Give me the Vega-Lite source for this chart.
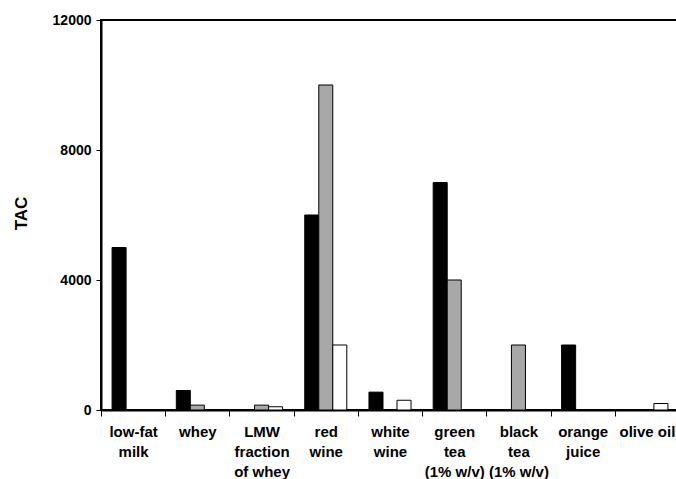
{
  "$schema": "https://vega.github.io/schema/vega-lite/v6.json",
  "autosize": "none",
  "width": 578,
  "height": 390,
  "padding": {"left": 101, "top": 20, "right": 0, "bottom": 69},
  "background": "white",
  "config": {
    "view": {"stroke": "black", "strokeWidth": 2},
    "font": "Liberation Sans"
  },
  "data": {
    "values": [
      {"food": "low-fat milk", "series": "A", "TAC": 5000},
      {"food": "low-fat milk", "series": "B", "TAC": 0},
      {"food": "low-fat milk", "series": "C", "TAC": 0},
      {"food": "whey", "series": "A", "TAC": 600},
      {"food": "whey", "series": "B", "TAC": 150},
      {"food": "whey", "series": "C", "TAC": 0},
      {"food": "LMW fraction of whey", "series": "A", "TAC": 0},
      {"food": "LMW fraction of whey", "series": "B", "TAC": 150},
      {"food": "LMW fraction of whey", "series": "C", "TAC": 100},
      {"food": "red wine", "series": "A", "TAC": 6000},
      {"food": "red wine", "series": "B", "TAC": 10000},
      {"food": "red wine", "series": "C", "TAC": 2000},
      {"food": "white wine", "series": "A", "TAC": 550},
      {"food": "white wine", "series": "B", "TAC": 0},
      {"food": "white wine", "series": "C", "TAC": 300},
      {"food": "green tea (1% w/v)", "series": "A", "TAC": 7000},
      {"food": "green tea (1% w/v)", "series": "B", "TAC": 4000},
      {"food": "green tea (1% w/v)", "series": "C", "TAC": 0},
      {"food": "black tea (1% w/v)", "series": "A", "TAC": 0},
      {"food": "black tea (1% w/v)", "series": "B", "TAC": 2000},
      {"food": "black tea (1% w/v)", "series": "C", "TAC": 0},
      {"food": "orange juice", "series": "A", "TAC": 2000},
      {"food": "orange juice", "series": "B", "TAC": 0},
      {"food": "orange juice", "series": "C", "TAC": 0},
      {"food": "olive oil", "series": "A", "TAC": 0},
      {"food": "olive oil", "series": "B", "TAC": 0},
      {"food": "olive oil", "series": "C", "TAC": 200}
    ]
  },
  "mark": {"type": "bar", "stroke": "black", "strokeWidth": 1},
  "encoding": {
    "x": {
      "field": "food",
      "type": "nominal",
      "sort": null,
      "scale": {"paddingInner": 0, "paddingOuter": 0},
      "axis": {
        "title": null,
        "labelAngle": 0,
        "domainColor": "black",
        "domainWidth": 2,
        "tickColor": "black",
        "tickBand": "extent",
        "tickSize": 6,
        "tickWidth": 1,
        "labelPadding": 8,
        "labelFont": "Liberation Sans",
        "labelFontWeight": "bold",
        "labelFontSize": 15,
        "labelColor": "black",
        "labelLineHeight": 20,
        "labelBaseline": "top",
        "labelLimit": 0,
        "labelExpr": "({'low-fat milk':['low-fat','milk'],'whey':['whey'],'LMW fraction of whey':['LMW','fraction','of whey'],'red wine':['red','wine'],'white wine':['white','wine'],'green tea (1% w/v)':['green','tea','(1% w/v)'],'black tea (1% w/v)':['black','tea','(1% w/v)'],'orange juice':['orange','juice'],'olive oil':['olive oil']})[datum.value]"
      }
    },
    "xOffset": {
      "field": "series",
      "scale": {"paddingOuter": 0.79, "paddingInner": 0}
    },
    "y": {
      "field": "TAC",
      "type": "quantitative",
      "scale": {"domain": [0, 12000]},
      "axis": {
        "values": [0, 4000, 8000, 12000],
        "grid": false,
        "title": "TAC",
        "titleFont": "Liberation Sans",
        "titleFontWeight": "bold",
        "titleFontSize": 17,
        "titleColor": "black",
        "titleX": -80,
        "titleY": 193,
        "titleAlign": "center",
        "titleBaseline": "middle",
        "domainColor": "black",
        "domainWidth": 2,
        "tickColor": "black",
        "tickSize": 5,
        "labelPadding": 5,
        "labelFont": "Liberation Sans",
        "labelFontWeight": "bold",
        "labelFontSize": 14,
        "labelColor": "black",
        "format": "d"
      }
    },
    "fill": {
      "field": "series",
      "scale": {"domain": ["A", "B", "C"], "range": ["#000000", "#a8a8a8", "#ffffff"]},
      "legend": null
    }
  }
}
